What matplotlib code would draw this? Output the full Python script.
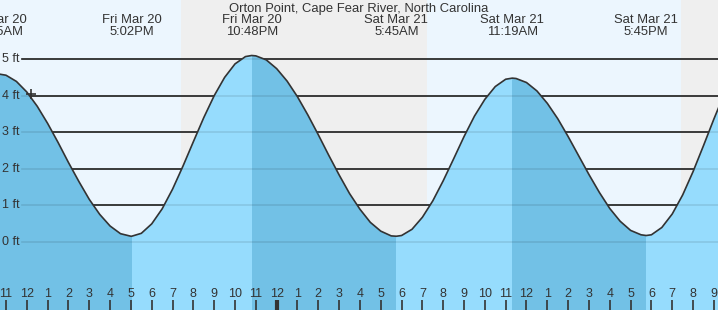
import numpy as np
import matplotlib
matplotlib.use("Agg")
import matplotlib.pyplot as plt
from matplotlib.patches import Rectangle
from matplotlib.transforms import blended_transform_factory

plt.rcParams['font.family'] = ['Liberation Sans', 'DejaVu Sans']

TITLE = "Orton Point, Cape Fear River, North Carolina"

# hours since midnight Fri Mar 20, read every half hour off the curve
hours = np.arange(10.5, 45.51, 0.5)
height_ft = [4.60, 4.56, 4.39, 4.10, 3.71, 3.24, 2.72, 2.17, 1.65, 1.16,
             0.75, 0.43, 0.22, 0.15, 0.23, 0.49, 0.90, 1.44, 2.07, 2.74,
             3.40, 4.00, 4.50, 4.87, 5.07, 5.09, 4.98, 4.74, 4.40, 3.97,
             3.47, 2.93, 2.37, 1.83, 1.32, 0.89, 0.53, 0.29, 0.16, 0.17,
             0.34, 0.67, 1.12, 1.67, 2.27, 2.88, 3.44, 3.90, 4.25, 4.45,
             4.47, 4.36, 4.13, 3.79, 3.37, 2.88, 2.36, 1.84, 1.35, 0.91,
             0.56, 0.31, 0.19, 0.19, 0.39, 0.76, 1.28, 1.92, 2.63, 3.36,
             4.05]

# high / low events
event_hours = [10.583, 17.033, 22.8, 29.75, 35.317, 41.75]
event_heights = [4.60, 0.15, 5.10, 0.15, 4.48, 0.17]
event_labels = ["Fri Mar 20\n10:35AM", "Fri Mar 20\n5:02PM", "Fri Mar 20\n10:48PM",
                "Sat Mar 21\n5:45AM", "Sat Mar 21\n11:19AM", "Sat Mar 21\n5:45PM"]
# rising tide stretches (low -> high)
rising = [(17.033, 22.8), (29.75, 35.317), (41.75, 48.0)]

# daylight
daylight = [(9.0, 19.4), (31.22, 43.42)]

ft_levels = [0, 1, 2, 3, 4, 5]
now_hour = 12.2
now_height = 4.05

DAY_BG = '#ecf6fe'
NIGHT_BG = '#efefef'
FALL_COLOR = '#72c1e6'
RISE_COLOR = '#96dcfd'
TEXT_COLOR = '#333333'

X_MIN, X_MAX = 10.712, 45.198
Y_MIN, Y_MAX = -1.87, 6.62

# merge the event points into the half hour readings
t_all = np.concatenate([hours, event_hours])
h_all = np.concatenate([height_ft, event_heights])
order = np.argsort(t_all)
t_all, h_all = t_all[order], h_all[order]

fig = plt.figure(figsize=(7.18, 3.10), dpi=100)
ax = fig.add_axes([0, 0, 1, 1])
ax.set_xlim(X_MIN, X_MAX)
ax.set_ylim(Y_MIN, Y_MAX)
ax.set_facecolor(NIGHT_BG)
for s in ax.spines.values():
    s.set_visible(False)

for start, end in daylight:
    ax.axvspan(start, end, color=DAY_BG, lw=0, zorder=0)

# grid lines, black above water
grid_start = 22 / 718
for lvl in ft_levels:
    ax.axhline(lvl, xmin=grid_start, xmax=1, color='#222222', lw=1.2, zorder=1)

# water: falling colour everywhere, rising colour clipped to rising stretches
ax.fill_between(t_all, h_all, Y_MIN, color=FALL_COLOR, lw=0, zorder=2)
for start, end in rising:
    poly = ax.fill_between(t_all, h_all, Y_MIN, color=RISE_COLOR, lw=0, zorder=2)
    clip = Rectangle((start, Y_MIN), end - start, Y_MAX - Y_MIN, transform=ax.transData)
    poly.set_clip_path(clip)

# faint grid lines seen through the water
for lvl in ft_levels:
    ax.axhline(lvl, xmin=grid_start, xmax=1, color='black', alpha=0.1, lw=1.2, zorder=3)

ax.plot(t_all, h_all, color='#333333', lw=1.2, zorder=4)
ax.plot([now_hour], [now_height], marker='+', ms=7, mew=1.2, color='#333333', zorder=5)

trans = blended_transform_factory(ax.transAxes, ax.transData)
for lvl in ft_levels:
    ax.text(20 / 718, lvl, f"{lvl} ft", transform=trans, ha='right', va='center',
            fontsize=9, color=TEXT_COLOR, zorder=6)

trans_top = blended_transform_factory(ax.transData, ax.transAxes)
for t, lbl in zip(event_hours, event_labels):
    ax.text(t, 1 - 14 / 310, lbl, transform=trans_top, ha='center', va='top',
            fontsize=9.4, color=TEXT_COLOR, linespacing=0.95, zorder=6)

ax.text(0.5, 1 - 3 / 310, TITLE, transform=ax.transAxes, ha='center', va='top',
        fontsize=9.4, color=TEXT_COLOR, zorder=6)

# hour ticks along the bottom, labels sit above the tick marks
tick_hours = list(range(11, 46))
ax.set_xticks(tick_hours)
ax.set_xticklabels([str(h % 12 if h % 12 else 12) for h in tick_hours])
ax.set_yticks([])
ax.tick_params(axis='x', direction='in', length=7, width=1.2, color='#333333',
               pad=-16, labelsize=9, labelcolor=TEXT_COLOR)
ax.xaxis.set_zorder(7)
for tick, h in zip(ax.xaxis.get_major_ticks(), tick_hours):
    if h == 24:
        tick.tick1line.set_markeredgewidth(3)

fig.savefig('out.png', dpi=100)
